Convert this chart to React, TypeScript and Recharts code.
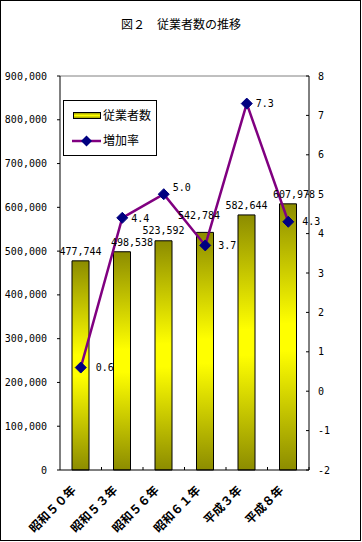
import React from "react";
import {
  ComposedChart,
  Bar,
  Line,
  XAxis,
  YAxis,
  LabelList,
  ReferenceLine,
  Legend,
} from "recharts";

const years = ["昭和５０年", "昭和５３年", "昭和５６年", "昭和６１年", "平成３年", "平成８年"];
const employees = [477744, 498538, 523592, 542784, 582644, 607978];
const growthRate = [0.6, 4.4, 5.0, 3.7, 7.3, 4.3];
const leftTicks = [0, 100000, 200000, 300000, 400000, 500000, 600000, 700000, 800000, 900000];
const rightTicks = [-2, -1, 0, 1, 2, 3, 4, 5, 6, 7, 8];

const data = years.map((year, i) => ({
  year,
  employees: employees[i],
  rate: growthRate[i],
}));

const W = 362;
const H = 542;
const PLOT_LEFT = 60;
const PLOT_RIGHT = 309;
const PLOT_TOP = 76;
const PLOT_BOTTOM = 470;
const BAND = (PLOT_RIGHT - PLOT_LEFT) / years.length;

const MONO = "'DejaVu Sans Mono', monospace";
const JP = "'Noto Sans CJK JP', sans-serif";

// hand nudges like the original label placement
const barLabelNudge = [[0, 0], [10, 0], [0, -1], [-6, -7], [0, 0], [6, 0]];
const lineLabelNudge = [[6, 0], [0, 1], [0, -7], [4, 0], [0, 0], [5, 0]];

const fmt = (v: number) => String(v).replace(/\B(?=(\d{3})+(?!\d))/g, ",");

const XTick = (props: any) => {
  const { x, y, payload } = props;
  return (
    <g>
      <line x1={x + BAND / 2} x2={x + BAND / 2} y1={y} y2={y - 3} stroke="#000" />
      <text
        x={x - 4}
        y={y + 21}
        transform={`rotate(-45 ${x - 4} ${y + 21})`}
        textAnchor="end"
        fontFamily={JP}
        fontWeight="bold"
        fontSize={12}
        fill="#000"
      >
        {payload.value}
      </text>
    </g>
  );
};

const RightTick = (props: any) => {
  const { x, y, payload } = props;
  return (
    <g>
      <line x1={x - 9} x2={x - 12} y1={y} y2={y} stroke="#000" />
      <text x={x} y={y} dy="0.355em" textAnchor="start" fontFamily={MONO} fontSize={10} fill="#000">
        {payload.value}
      </text>
    </g>
  );
};

const Diamond = (props: any) => {
  const { cx, cy } = props;
  if (cx == null || cy == null) return null;
  const r = 5.5;
  return (
    <polygon
      points={`${cx},${cy - r} ${cx + r},${cy} ${cx},${cy + r} ${cx - r},${cy}`}
      fill="#000080"
      stroke="#000080"
    />
  );
};

const BarLabel = (props: any) => {
  const { x, y, width, value, index } = props;
  const [dx, dy] = barLabelNudge[index] || [0, 0];
  return (
    <text
      x={x + width / 2 + dx}
      y={y - 6 + dy}
      textAnchor="middle"
      fontFamily={MONO}
      fontSize={10}
      fill="#000"
    >
      {fmt(value)}
    </text>
  );
};

const LineLabel = (props: any) => {
  const { x, y, value, index } = props;
  const [dx, dy] = lineLabelNudge[index] || [0, 0];
  return (
    <text
      x={x + 9 + dx}
      y={y + dy}
      dy="0.355em"
      textAnchor="start"
      fontFamily={MONO}
      fontSize={10}
      fill="#000"
    >
      {Number(value).toFixed(1)}
    </text>
  );
};

const LegendBox = () => (
  <svg width={94} height={56} style={{ display: "block" }}>
    <defs>
      <linearGradient id="legGrad" x1="0" y1="0" x2="0" y2="1">
        <stop offset="0%" stopColor="#8c8c00" />
        <stop offset="50%" stopColor="#ffff00" />
        <stop offset="100%" stopColor="#8c8c00" />
      </linearGradient>
    </defs>
    <rect x={0.5} y={0.5} width={93} height={55} fill="#fff" stroke="#000" />
    <rect x={10.5} y={12.5} width={27} height={6} fill="url(#legGrad)" stroke="#000" />
    <text x={40} y={15.5} dy="0.355em" fontFamily={JP} fontSize={12} fill="#000">
      従業者数
    </text>
    <line x1={9} x2={38} y1={41} y2={41} stroke="#800080" strokeWidth={2.5} />
    <polygon points="23.5,35.5 29,41 23.5,46.5 18,41" fill="#000080" />
    <text x={40} y={41} dy="0.355em" fontFamily={JP} fontSize={12} fill="#000">
      増加率
    </text>
  </svg>
);

export default function App() {
  return (
    <div style={{ position: "absolute", left: 0, top: 0, width: W, height: H, background: "#fff" }}>
      <div
        style={{
          position: "absolute",
          left: 0,
          top: 17,
          width: W,
          textAlign: "center",
          fontFamily: JP,
          fontSize: 12,
          lineHeight: "14px",
          color: "#000",
        }}
      >
        図２　従業者数の推移
      </div>
      <ComposedChart
        width={W}
        height={H}
        data={data}
        margin={{ top: PLOT_TOP, right: 0, bottom: 0, left: 0 }}
      >
        <defs>
          <linearGradient id="barGrad" x1="0" y1="0" x2="0" y2="1">
            <stop offset="0%" stopColor="#8c8c00" />
            <stop offset="45%" stopColor="#ffff00" />
            <stop offset="55%" stopColor="#ffff00" />
            <stop offset="100%" stopColor="#8c8c00" />
          </linearGradient>
        </defs>
        <XAxis
          dataKey="year"
          height={H - PLOT_BOTTOM}
          interval={0}
          tickSize={0}
          tickMargin={0}
          tickLine={false}
          axisLine={{ stroke: "#000" }}
          tick={<XTick />}
        />
        <YAxis
          yAxisId="left"
          width={PLOT_LEFT}
          domain={[0, 900000]}
          ticks={leftTicks}
          tickFormatter={fmt}
          tickSize={3}
          tickMargin={10}
          axisLine={{ stroke: "#000" }}
          tickLine={{ stroke: "#000" }}
          tick={{ fill: "#000", fontSize: 10, fontFamily: MONO }}
        />
        <YAxis
          yAxisId="right"
          orientation="right"
          width={W - PLOT_RIGHT}
          domain={[-2, 8]}
          ticks={rightTicks}
          tickSize={0}
          tickMargin={9}
          tickLine={false}
          axisLine={{ stroke: "#000" }}
          tick={<RightTick />}
        />
        <ReferenceLine yAxisId="left" y={900000} stroke="#808080" />
        <Legend
          layout="vertical"
          align="center"
          verticalAlign="middle"
          content={() => <LegendBox />}
          wrapperStyle={{ position: "absolute", left: 63, top: 100, width: 94, height: 56 }}
        />
        <Bar
          yAxisId="left"
          dataKey="employees"
          name="従業者数"
          barSize={17}
          fill="url(#barGrad)"
          stroke="#000"
          strokeWidth={1}
          isAnimationActive={false}
        >
          <LabelList dataKey="employees" content={<BarLabel />} />
        </Bar>
        <Line
          yAxisId="right"
          dataKey="rate"
          name="増加率"
          type="linear"
          stroke="#800080"
          strokeWidth={2.5}
          dot={<Diamond />}
          activeDot={false}
          isAnimationActive={false}
        >
          <LabelList dataKey="rate" content={<LineLabel />} />
        </Line>
      </ComposedChart>
      <div
        style={{
          position: "absolute",
          left: 0,
          top: 0,
          width: W - 1,
          height: H - 1,
          border: "1px solid #000",
          boxSizing: "border-box",
          pointerEvents: "none",
        }}
      />
    </div>
  );
}
